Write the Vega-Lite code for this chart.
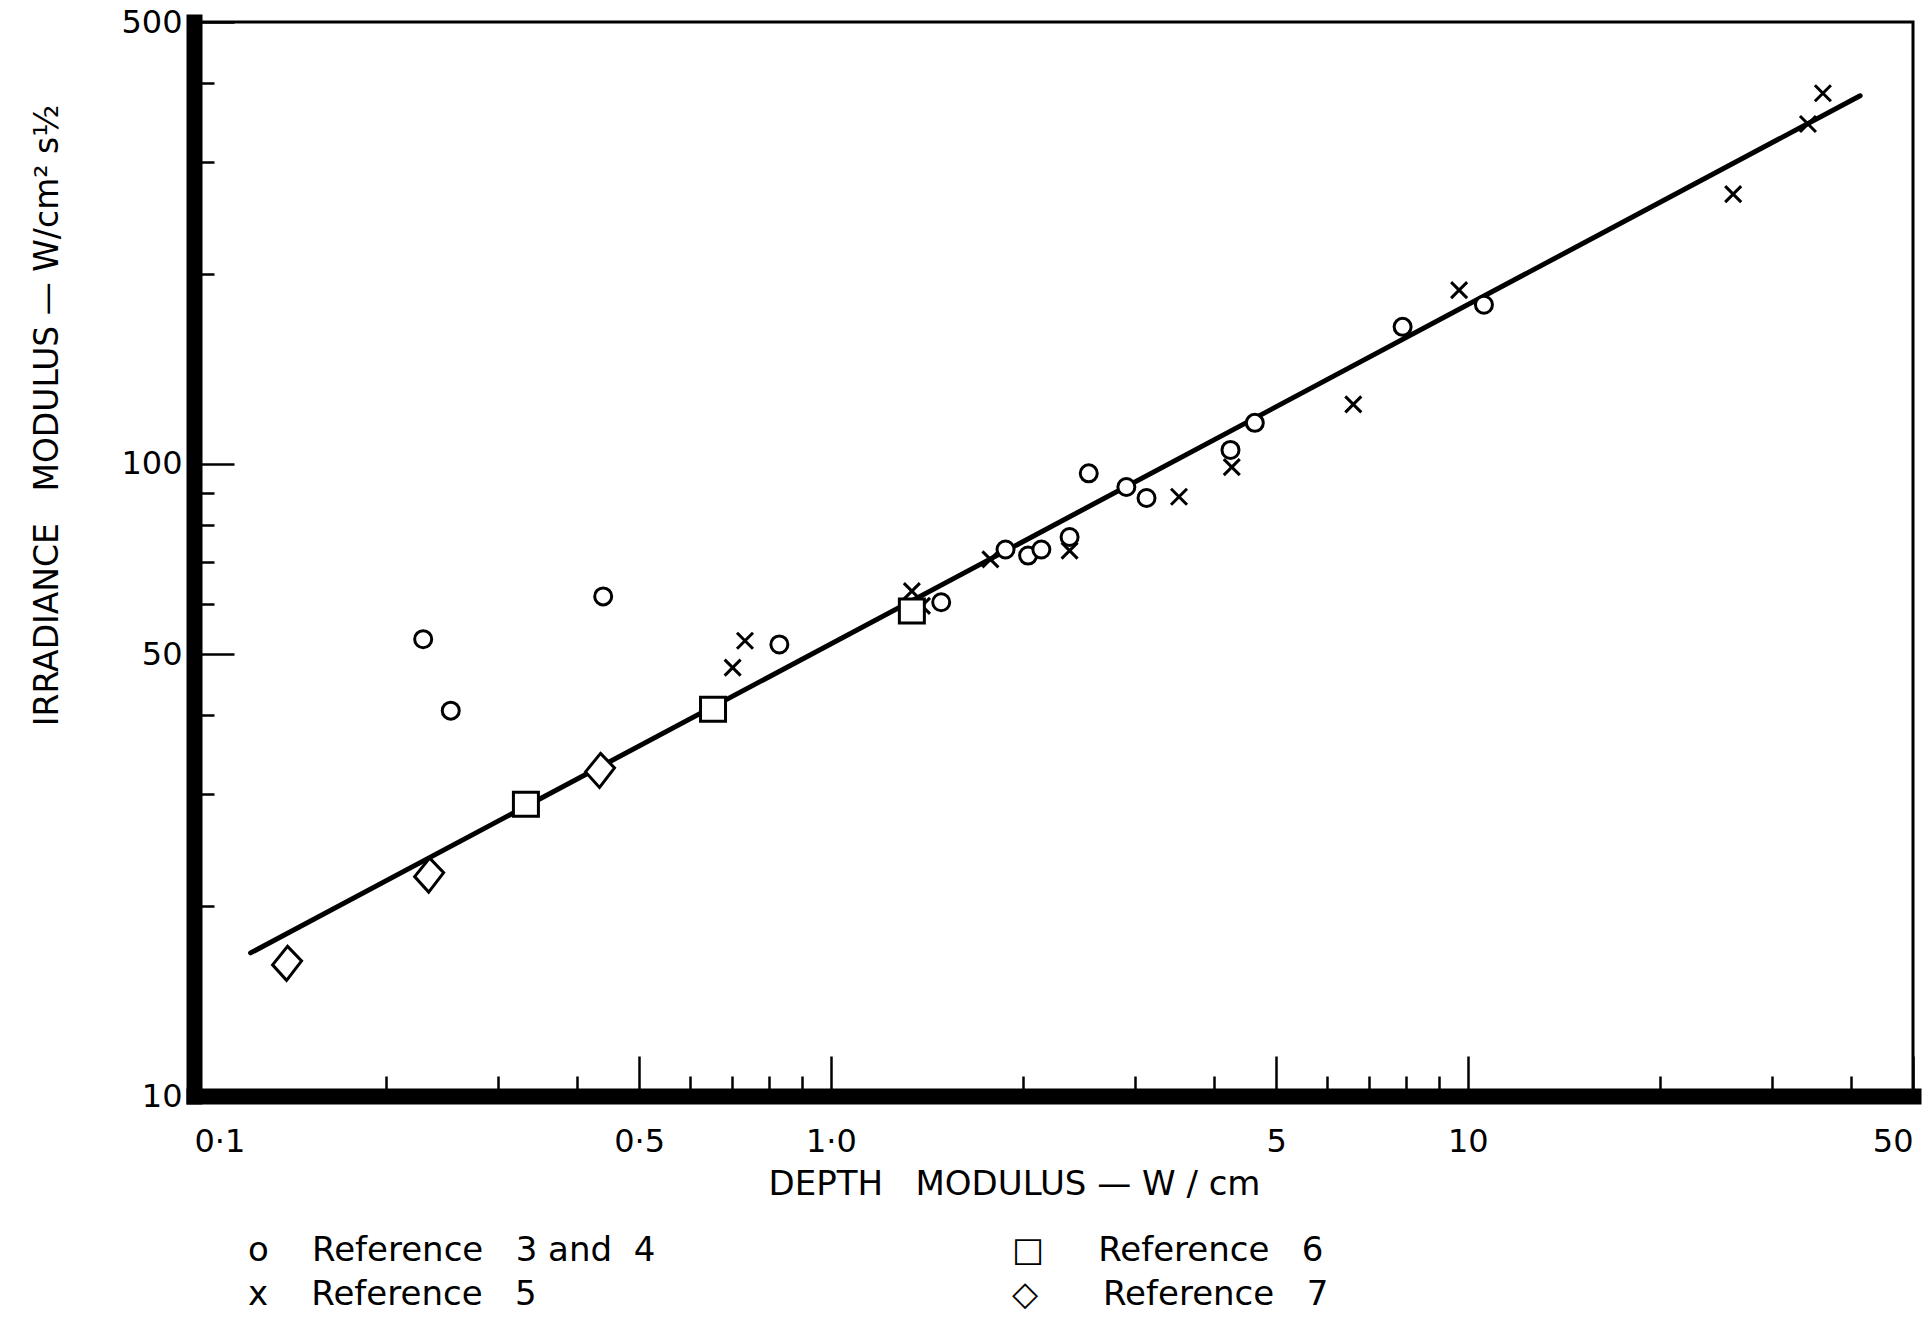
{
  "$schema": "https://vega.github.io/schema/vega-lite/v6.json",
  "width": 1719,
  "height": 1074,
  "autosize": {"type": "none"},
  "padding": {"left": 194, "top": 22, "right": 15, "bottom": 222},
  "background": "white",
  "config": {
    "view": {"stroke": "black", "strokeWidth": 3},
    "font": "DejaVu Sans"
  },
  "datasets": {
    "points": [
      {"series": "Reference 3 and 4", "depth": 0.229, "irr": 52.8},
      {"series": "Reference 3 and 4", "depth": 0.253, "irr": 40.7},
      {"series": "Reference 3 and 4", "depth": 0.439, "irr": 61.7},
      {"series": "Reference 3 and 4", "depth": 0.830, "irr": 51.8},
      {"series": "Reference 3 and 4", "depth": 1.49, "irr": 60.4},
      {"series": "Reference 3 and 4", "depth": 1.88, "irr": 73.2},
      {"series": "Reference 3 and 4", "depth": 2.04, "irr": 71.6},
      {"series": "Reference 3 and 4", "depth": 2.14, "irr": 73.2},
      {"series": "Reference 3 and 4", "depth": 2.37, "irr": 76.6},
      {"series": "Reference 3 and 4", "depth": 2.54, "irr": 96.6},
      {"series": "Reference 3 and 4", "depth": 2.91, "irr": 91.9},
      {"series": "Reference 3 and 4", "depth": 3.13, "irr": 88.3},
      {"series": "Reference 3 and 4", "depth": 4.24, "irr": 105.2},
      {"series": "Reference 3 and 4", "depth": 4.63, "irr": 116.1},
      {"series": "Reference 3 and 4", "depth": 7.90, "irr": 164.7},
      {"series": "Reference 3 and 4", "depth": 10.6, "irr": 178.5},
      {"series": "Reference 5", "depth": 0.701, "irr": 47.6},
      {"series": "Reference 5", "depth": 0.733, "irr": 52.5},
      {"series": "Reference 5", "depth": 1.34, "irr": 62.9},
      {"series": "Reference 5", "depth": 1.39, "irr": 59.6},
      {"series": "Reference 5", "depth": 1.78, "irr": 70.6},
      {"series": "Reference 5", "depth": 2.37, "irr": 72.9},
      {"series": "Reference 5", "depth": 3.52, "irr": 88.7},
      {"series": "Reference 5", "depth": 4.26, "irr": 98.8},
      {"series": "Reference 5", "depth": 6.61, "irr": 124.2},
      {"series": "Reference 5", "depth": 9.69, "irr": 188.3},
      {"series": "Reference 5", "depth": 26.1, "irr": 267.1},
      {"series": "Reference 5", "depth": 34.2, "irr": 344.8},
      {"series": "Reference 5", "depth": 36.1, "irr": 385.7},
      {"series": "Reference 6", "depth": 0.332, "irr": 28.95},
      {"series": "Reference 6", "depth": 0.653, "irr": 40.9},
      {"series": "Reference 6", "depth": 1.34, "irr": 58.5},
      {"series": "Reference 7", "depth": 0.140, "irr": 16.24},
      {"series": "Reference 7", "depth": 0.234, "irr": 22.4},
      {"series": "Reference 7", "depth": 0.434, "irr": 32.8}
    ],
    "fit": [
      {"depth": 0.1227, "irr": 16.84},
      {"depth": 41.3, "irr": 382.2}
    ]
  },
  "encoding": {
    "x": {
      "field": "depth", "type": "quantitative",
      "scale": {"type": "log", "domain": [0.1, 50], "nice": false},
      "axis": {
        "orient": "bottom",
        "values": [0.1, 0.2, 0.3, 0.4, 0.5, 0.6, 0.7, 0.8, 0.9, 1, 2, 3, 4, 5, 6, 7, 8, 9, 10, 20, 30, 40, 50],
        "labelExpr": "datum.value == 0.1 ? '0·1' : datum.value == 0.5 ? '0·5' : datum.value == 1 ? '1·0' : datum.value == 5 ? '5' : datum.value == 10 ? '10' : datum.value == 50 ? '50' : ''",
        "tickSize": {"condition": {"test": "indexof([0.1,0.5,1,5,10,50], datum.value) >= 0", "value": -40}, "value": -20},
        "tickWidth": 2.5,
        "tickColor": "black",
        "domainWidth": 16,
        "domainColor": "black",
        "domainCap": "square",
        "grid": false,
        "labelFlush": true,
        "labelPadding": 70,
        "labelFont": "DejaVu Sans",
        "labelFontSize": 32,
        "labelColor": "black",
        "title": "DEPTH\u00a0\u00a0\u00a0MODULUS\u00a0— W\u00a0/\u00a0cm",
        "titleFont": "DejaVu Sans",
        "titleFontSize": 34,
        "titleFontWeight": "normal",
        "titleColor": "black",
        "titleX": 820,
        "titleY": 88,
        "titleAlign": "center",
        "titleBaseline": "middle"
      }
    },
    "y": {
      "field": "irr", "type": "quantitative",
      "scale": {"type": "log", "domain": [10, 500], "nice": false},
      "axis": {
        "orient": "left",
        "values": [10, 20, 30, 40, 50, 60, 70, 80, 90, 100, 200, 300, 400, 500],
        "labelExpr": "indexof([10,50,100,500], datum.value) >= 0 ? format(datum.value, 'd') : ''",
        "tickSize": {"condition": {"test": "indexof([10,50,100,500], datum.value) >= 0", "value": -40}, "value": -20},
        "tickWidth": 2.5,
        "tickColor": "black",
        "domainWidth": 16,
        "domainColor": "black",
        "domainCap": "square",
        "grid": false,
        "labelPadding": 52,
        "labelFont": "DejaVu Sans",
        "labelFontSize": 32,
        "labelColor": "black",
        "labelBaseline": "middle",
        "title": "IRRADIANCE\u00a0\u00a0\u00a0MODULUS\u00a0— W/cm² s½",
        "titleFont": "DejaVu Sans",
        "titleFontSize": 33,
        "titleFontWeight": "normal",
        "titleColor": "black",
        "titleAngle": -90,
        "titleX": -147,
        "titleY": 393,
        "titleAlign": "center",
        "titleBaseline": "middle"
      }
    }
  },
  "layer": [
    {
      "data": {"name": "fit"},
      "mark": {"type": "line", "stroke": "black", "strokeWidth": 5, "strokeCap": "round"},
      "encoding": {}
    },
    {
      "data": {"name": "points"},
      "mark": {"type": "point", "filled": true, "color": "white", "fill": "white", "stroke": "black", "strokeWidth": 3, "size": 400, "opacity": 1},
      "encoding": {
        "shape": {
          "field": "series", "type": "nominal",
          "scale": {
            "domain": ["Reference 3 and 4", "Reference 5", "Reference 6", "Reference 7"],
            "range": [
              "M-0.85,0A0.85,0.85,0,1,1,0.85,0A0.85,0.85,0,1,1,-0.85,0Z",
              "M-0.8,-0.8L0.8,0.8M0.8,-0.8L-0.8,0.8",
              "M-1.25,-1.2L1.25,-1.2L1.25,1.2L-1.25,1.2Z",
              "M0.05,-1.65L1.45,-0.2L-0.05,1.75L-1.45,0.2Z"
            ]
          },
          "legend": {
            "title": null,
            "orient": "none",
            "legendX": 20,
            "legendY": 1212,
            "columns": 2,
            "columnPadding": 322,
            "rowPadding": 10,
            "symbolSize": 300,
            "symbolOpacity": 0,
            "labelFont": "DejaVu Sans",
            "labelFontSize": 34,
            "labelColor": "black",
            "labelOffset": 0,
            "labelLimit": 800,
            "labelExpr": "datum.label == 'Reference 3 and 4' ? 'o\u00a0\u00a0\u00a0\u00a0Reference\u00a0\u00a0 3 and\u00a0\u00a04' : datum.label == 'Reference 5' ? 'x\u00a0\u00a0\u00a0\u00a0Reference\u00a0\u00a0 5' : datum.label == 'Reference 6' ? '□\u00a0\u00a0\u00a0\u00a0\u00a0Reference\u00a0\u00a0 6' : '◇\u00a0\u00a0\u00a0\u00a0\u00a0\u00a0Reference\u00a0\u00a0 7'"
          }
        }
      }
    }
  ]
}
